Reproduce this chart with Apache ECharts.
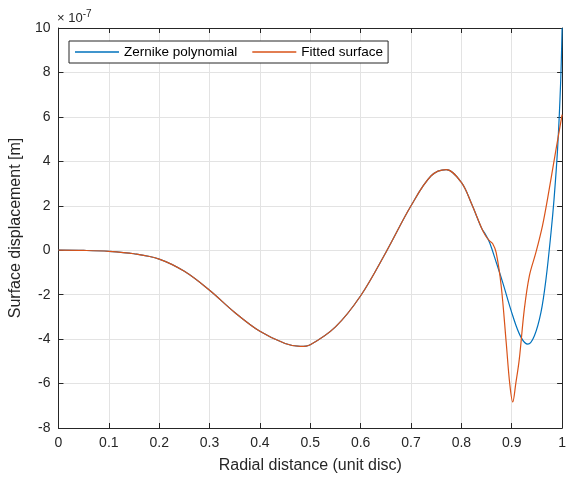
<!DOCTYPE html>
<html>
<head>
<meta charset="utf-8">
<script src="https://cdn.jsdelivr.net/npm/echarts@6/dist/echarts.min.js"></script>
<style>html,body{margin:0;padding:0;background:#fff}#c{width:569px;height:479px}</style>
</head>
<body>
<div id="c"></div>
<script>
// Values in units of 1e-7 m
const xShared = [0, 0.05, 0.1, 0.15, 0.2, 0.25, 0.3, 0.35, 0.4, 0.45, 0.48, 0.5, 0.55, 0.6, 0.65, 0.7, 0.74, 0.77, 0.8, 0.82, 0.84];
const yShared = [0, -0.01, -0.05, -0.16, -0.4, -0.95, -1.8, -2.8, -3.65, -4.2, -4.33, -4.25, -3.45, -2.05, -0.1, 2.0, 3.35, 3.63, 3.05, 2.1, 1.0];
const xZernikeTail = [0.848, 0.856, 0.87, 0.882, 0.902, 0.918, 0.932, 0.945, 0.958, 0.968, 0.978, 0.984, 0.991, 0.997, 1.0];
const yZernikeTail = [0.7, 0.35, -0.6, -1.45, -2.95, -3.9, -4.23, -3.85, -2.8, -1.3, 0.8, 2.3, 4.55, 7.5, 10];
const xFittedTail = [0.848, 0.856, 0.862, 0.869, 0.879, 0.889, 0.896, 0.902, 0.908, 0.915, 0.925, 0.935, 0.948, 0.961, 0.971, 0.988, 1.0];
const yFittedTail = [0.65, 0.42, 0.3, -0.1, -1.6, -4.15, -6.0, -6.83, -6.0, -4.9, -2.65, -1.15, -0.1, 1.1, 2.3, 4.55, 6.1];
const xTicks = [0, 0.1, 0.2, 0.3, 0.4, 0.5, 0.6, 0.7, 0.8, 0.9, 1];
const yTicks = [-8, -6, -4, -2, 0, 2, 4, 6, 8, 10];
const seriesNames = ['Zernike polynomial', 'Fitted surface'];

function pairs(xs, ys) { return xs.map((x, i) => [x, ys[i]]); }
const zernikeData = pairs(xShared, yShared).concat(pairs(xZernikeTail, yZernikeTail));
const fittedData = pairs(xShared, yShared).concat(pairs(xFittedTail, yFittedTail));

const axisColor = '#262626';
const font = 'Liberation Sans, Arial, sans-serif';
const chart = echarts.init(document.getElementById('c'), null, {renderer: 'canvas'});
const baseX = {
  type: 'value', min: 0, max: 1, interval: 0.1,
  axisLine: {show: true, onZero: false, lineStyle: {color: axisColor, width: 1}},
  axisTick: {show: true, inside: true, length: 5, lineStyle: {color: axisColor}},
  splitLine: {show: false}
};
const baseY = {
  type: 'value', min: -8, max: 10, interval: 2,
  axisLine: {show: true, onZero: false, lineStyle: {color: axisColor, width: 1}},
  axisTick: {show: true, inside: true, length: 5, lineStyle: {color: axisColor}},
  splitLine: {show: false}
};
chart.setOption({
  animation: false,
  backgroundColor: '#fff',
  grid: {left: 56, right: 6, top: 28, bottom: 50, containLabel: false},
  xAxis: [
    Object.assign({}, baseX, {
      position: 'bottom',
      name: 'Radial distance (unit disc)', nameLocation: 'middle', nameGap: 30,
      nameTextStyle: {fontFamily: font, fontSize: 16, color: axisColor},
      axisLabel: {fontFamily: font, fontSize: 14, color: axisColor, margin: 8,
        formatter: v => xTicks.includes(Math.round(v * 10) / 10) ? String(Math.round(v * 10) / 10) : ''},
      splitLine: {show: true, lineStyle: {color: '#e3e3e3', width: 1}}
    }),
    Object.assign({}, baseX, {position: 'top', axisLabel: {show: false}})
  ],
  yAxis: [
    Object.assign({}, baseY, {
      position: 'left',
      name: 'Surface displacement [m]', nameLocation: 'middle', nameGap: 30,
      nameTextStyle: {fontFamily: font, fontSize: 16, color: axisColor},
      axisLabel: {fontFamily: font, fontSize: 14, color: axisColor, margin: 8,
        formatter: v => yTicks.includes(v) ? String(v) : ''},
      splitLine: {show: true, lineStyle: {color: '#e3e3e3', width: 1}}
    }),
    Object.assign({}, baseY, {position: 'right', axisLabel: {show: false}})
  ],
  legend: {
    left: 69, top: 41, orient: 'horizontal',
    data: seriesNames.map(n => ({name: n, icon: 'rect'})),
    backgroundColor: '#fff', borderColor: axisColor, borderWidth: 1, borderRadius: 0,
    padding: [4, 5, 4, 6], itemGap: 15, itemWidth: 44, itemHeight: 1.3,
    textStyle: {fontFamily: font, fontSize: 13.5, color: '#000'}
  },
  graphic: [{
    type: 'text', left: 57, top: 9,
    style: {
      text: '{a|× 10}{b|-7}',
      rich: {
        a: {fontFamily: font, fontSize: 13, fill: axisColor},
        b: {fontFamily: font, fontSize: 10, fill: axisColor, verticalAlign: 'top', padding: [0, 0, 8, 0]}
      }
    }
  }],
  series: [
    {name: seriesNames[0], type: 'line', data: zernikeData, showSymbol: false, symbol: 'none',
     smooth: 0.35, lineStyle: {color: '#0072BD', width: 1.2}, itemStyle: {color: '#0072BD'}, z: 2},
    {name: seriesNames[1], type: 'line', data: fittedData, showSymbol: false, symbol: 'none',
     smooth: 0.35, lineStyle: {color: '#D95319', width: 1.2}, itemStyle: {color: '#D95319'}, z: 3}
  ]
});
</script>
</body>
</html>
